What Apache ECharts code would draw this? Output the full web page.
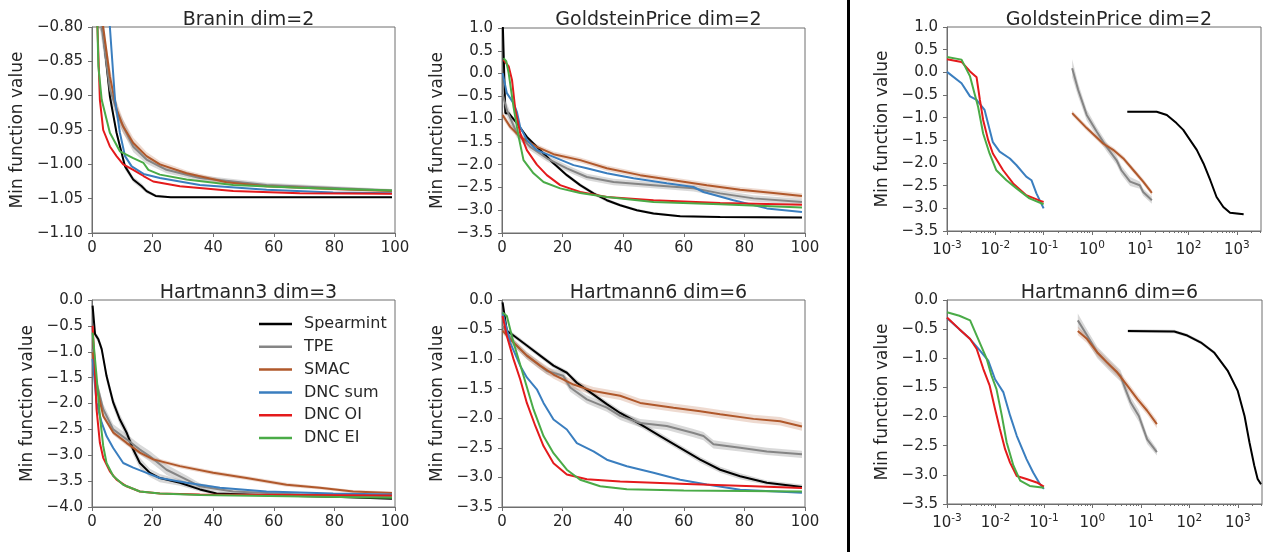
<!DOCTYPE html>
<html><head><meta charset="utf-8">
<script src="https://cdn.jsdelivr.net/npm/echarts@6/dist/echarts.min.js"></script>
<style>html,body{margin:0;padding:0;background:#fff}#c{width:1269px;height:552px}</style>
</head><body><div id="c"></div>
<script>
// ---------- names / titles ----------
const seriesNames = ['Spearmint', 'TPE', 'SMAC', 'DNC sum', 'DNC OI', 'DNC EI'];
const panelTitles = ['Branin dim=2', 'GoldsteinPrice dim=2', 'Hartmann3 dim=3', 'Hartmann6 dim=6', 'GoldsteinPrice dim=2', 'Hartmann6 dim=6'];
const yTitle = 'Min function value';
const linearXTicks = [0, 20, 40, 60, 80, 100];
const logXTicks = [0.001, 0.01, 0.1, 1, 10, 100, 1000];

// ---------- Branin (linear x) ----------
const brSpearmint = [[2,-0.70],[3.5,-0.80],[5.9,-0.901],[8.1,-0.954],[10.9,-1.003],[13.6,-1.022],[16.4,-1.032],[18,-1.039],[21,-1.046],[26,-1.048],[35,-1.048],[99,-1.048]];
const brSpearmintHalf = [0.01,0.01,0.008,0.006,0.005,0.004,0.004,0.003,0.002,0.001,0.001,0.001];
const brTPE = [[2.5,-0.75],[3.2,-0.80],[5.9,-0.891],[9.2,-0.935],[13.6,-0.974],[18,-0.993],[24.6,-1.008],[35.6,-1.020],[57.6,-1.030],[99,-1.038]];
const brTPEHalf = [0.02,0.02,0.012,0.01,0.008,0.006,0.005,0.004,0.003,0.002];
const brSMAC = [[3,-0.75],[3.7,-0.80],[5.9,-0.872],[8.1,-0.920],[10.3,-0.945],[13.6,-0.969],[18,-0.988],[22.4,-1.0],[31.2,-1.013],[44.4,-1.026],[57.6,-1.032],[79.6,-1.036],[99,-1.039]];
const brSMACHalf = [0.02,0.02,0.015,0.012,0.01,0.008,0.006,0.005,0.004,0.003,0.002,0.002,0.002];
const brSum = [[5,-0.70],[5.9,-0.80],[7.6,-0.906],[9.2,-0.954],[10.9,-0.988],[13.1,-1.003],[17,-1.014],[22.4,-1.020],[35.6,-1.030],[57.6,-1.037],[79.6,-1.041],[99,-1.042]];
const brOI = [[1,-0.70],[1.8,-0.80],[2.6,-0.906],[3.7,-0.95],[5.9,-0.974],[8.1,-0.988],[10.3,-1.0],[13.6,-1.008],[17,-1.017],[20.2,-1.025],[29,-1.032],[46.6,-1.039],[68.6,-1.042],[99,-1.043]];
const brEI = [[1.5,-0.75],[1.8,-0.80],[2.1,-0.857],[3.2,-0.906],[5.9,-0.954],[9.2,-0.981],[13.6,-0.991],[17,-0.998],[18.6,-1.008],[22.4,-1.015],[31.2,-1.022],[46.6,-1.030],[68.6,-1.034],[99,-1.038]];

// ---------- GoldsteinPrice (linear x) ----------
const gpSpearmint = [[0,1.2],[0.3,1.0],[1.1,-0.87],[2.2,-0.87],[4.9,-1.09],[8.2,-1.39],[12.6,-1.68],[17,-1.97],[21.4,-2.23],[25.8,-2.45],[30.2,-2.63],[34.6,-2.78],[39,-2.89],[44.5,-3.0],[50,-3.07],[58.8,-3.13],[72,-3.15],[99,-3.16]];
const gpSpearmintHalf = [0.05,0.05,0.05,0.04,0.04,0.04,0.04,0.04,0.04,0.04,0.04,0.04,0.03,0.03,0.03,0.02,0.02,0.02];
const gpTPE = [[0.2,-0.45],[1.6,-0.80],[4.9,-1.31],[9.3,-1.61],[14.8,-1.86],[21.4,-2.08],[28,-2.27],[36.8,-2.38],[50,-2.45],[63.2,-2.52],[72,-2.63],[83,-2.74],[99,-2.82]];
const gpTPEHalf = [0.25,0.15,0.1,0.08,0.07,0.07,0.07,0.07,0.07,0.07,0.07,0.07,0.07];
const gpSMAC = [[0.2,-0.91],[2.7,-1.17],[6,-1.39],[11.5,-1.61],[17,-1.77],[25.8,-1.90],[34.6,-2.08],[45.6,-2.23],[56.6,-2.34],[67.6,-2.45],[78.6,-2.55],[89.6,-2.62],[99,-2.69]];
const gpSMACHalf = [0.08,0.07,0.06,0.06,0.06,0.06,0.06,0.06,0.06,0.06,0.06,0.06,0.06];
const gpSum = [[0.2,0.01],[1.6,-0.43],[3.8,-0.65],[4.9,-0.84],[6,-1.17],[8.2,-1.46],[11.5,-1.68],[17,-1.83],[23.6,-2.01],[28,-2.08],[34.6,-2.19],[43.4,-2.30],[54.4,-2.41],[63.2,-2.49],[66.5,-2.60],[76.4,-2.78],[87.4,-2.96],[99,-3.04]];
const gpOI = [[0.5,0.30],[2.2,0.16],[3,-0.06],[3.3,-0.14],[4.4,-0.80],[6,-1.31],[8.2,-1.68],[11.5,-2.0],[14.8,-2.23],[19.2,-2.45],[25.8,-2.60],[34.6,-2.71],[50,-2.78],[72,-2.84],[99,-2.88]];
const gpEI = [[0.5,0.34],[1.4,0.27],[2.2,0.01],[3.8,-0.73],[5.5,-1.39],[7.1,-1.90],[10.4,-2.19],[13.7,-2.38],[19.2,-2.52],[25.8,-2.62],[34.6,-2.71],[50,-2.82],[72,-2.87],[99,-2.94]];

// ---------- Hartmann3 (linear x) ----------
const h3Spearmint = [[0.2,-0.11],[1,-0.66],[2.1,-0.76],[3.2,-0.95],[4.8,-1.47],[7,-1.98],[9.2,-2.31],[11.4,-2.56],[13.6,-2.89],[15.8,-3.15],[19.1,-3.34],[22.4,-3.44],[29,-3.53],[35.6,-3.66],[41.1,-3.74],[60,-3.78],[80,-3.80],[99,-3.84]];
const h3SpearmintHalf = [0.05,0.06,0.06,0.08,0.1,0.1,0.1,0.1,0.1,0.1,0.08,0.08,0.06,0.04,0.03,0.02,0.02,0.02];
const h3TPE = [[0.2,-0.95],[1.5,-1.60],[3.7,-2.11],[7,-2.50],[11.4,-2.69],[15.8,-2.89],[19.1,-3.02],[24.6,-3.28],[31.2,-3.47],[35.6,-3.60],[46.6,-3.70],[68.6,-3.76],[99,-3.79]];
const h3TPEHalf = [0.1,0.1,0.1,0.1,0.1,0.1,0.1,0.1,0.08,0.06,0.04,0.03,0.03];
const h3SMAC = [[0.2,-1.01],[1.5,-1.66],[3.7,-2.24],[7,-2.56],[11.4,-2.76],[15.8,-2.95],[20.2,-3.08],[29,-3.21],[40,-3.34],[51,-3.44],[64.2,-3.57],[75.2,-3.63],[86.2,-3.70],[99,-3.73]];
const h3SMACHalf = [0.05,0.05,0.05,0.05,0.05,0.04,0.04,0.04,0.04,0.04,0.04,0.03,0.03,0.03];
const h3Sum = [[0.2,-1.14],[1.5,-1.98],[3.2,-2.37],[4.8,-2.63],[7,-2.86],[10.3,-3.15],[13.6,-3.24],[18,-3.34],[22.4,-3.44],[31.2,-3.53],[42.2,-3.63],[57.6,-3.70],[79.6,-3.74],[99,-3.76]];
const h3OI = [[0.2,-0.50],[0.8,-1.14],[1.5,-2.11],[2.6,-2.76],[3.7,-3.05],[5.9,-3.31],[8.1,-3.47],[11.4,-3.60],[15.8,-3.70],[22.4,-3.74],[35.6,-3.76],[99,-3.78]];
const h3EI = [[0.2,-0.63],[1.5,-1.47],[2.6,-2.24],[3.7,-2.82],[4.8,-3.15],[7,-3.40],[10.3,-3.57],[15.8,-3.70],[22.4,-3.74],[35.6,-3.77],[99,-3.82]];

// ---------- Hartmann6 (linear x) ----------
const h6Spearmint = [[0.2,-0.04],[1.6,-0.52],[3.8,-0.60],[8.2,-0.77],[12.6,-0.94],[17,-1.11],[21.4,-1.23],[24.7,-1.40],[30.2,-1.60],[34.6,-1.76],[39,-1.91],[45.6,-2.10],[52.2,-2.30],[58.8,-2.50],[65.4,-2.70],[72,-2.87],[78.6,-2.98],[87.4,-3.09],[99,-3.16]];
const h6SpearmintHalf = [0.03,0.04,0.04,0.04,0.04,0.04,0.04,0.05,0.05,0.05,0.05,0.05,0.05,0.05,0.05,0.05,0.05,0.04,0.04];
const h6TPE = [[0.2,-0.44],[3.8,-0.72],[8.2,-0.94],[14.8,-1.20],[20.2,-1.28],[22.5,-1.48],[28,-1.68],[34.6,-1.82],[39,-1.96],[45.6,-2.08],[54.4,-2.13],[63.2,-2.25],[66.5,-2.30],[69.8,-2.44],[78.6,-2.50],[87.4,-2.56],[99,-2.61]];
const h6TPEHalf = [0.06,0.06,0.06,0.06,0.07,0.07,0.07,0.07,0.07,0.07,0.07,0.07,0.07,0.07,0.06,0.06,0.06];
const h6SMAC = [[0.2,-0.52],[3.8,-0.72],[8.2,-0.94],[12.6,-1.11],[17,-1.26],[23.6,-1.43],[30.2,-1.54],[39,-1.62],[45.6,-1.74],[56.6,-1.82],[65.4,-1.88],[72,-1.93],[83,-2.01],[91.8,-2.05],[99,-2.14]];
const h6SMACHalf = [0.05,0.06,0.06,0.07,0.07,0.07,0.07,0.07,0.07,0.07,0.07,0.07,0.07,0.07,0.07];
const h6Sum = [[0.2,-0.21],[2.7,-0.72],[6,-1.11],[8.2,-1.31],[11.5,-1.51],[13.7,-1.74],[17,-2.02],[21.4,-2.19],[24.7,-2.42],[30.2,-2.56],[34.6,-2.70],[41.2,-2.81],[50,-2.92],[58.8,-3.04],[67.6,-3.12],[78.6,-3.21],[99,-3.26]];
const h6OI = [[0.2,-0.27],[1.6,-0.61],[3.8,-1.00],[6,-1.34],[8.2,-1.74],[11,-2.13],[13.7,-2.47],[17,-2.76],[21.4,-2.95],[28,-3.03],[39,-3.07],[61,-3.11],[83,-3.15],[99,-3.18]];
const h6EI = [[0.2,-0.21],[1.6,-0.27],[3.8,-0.72],[7.1,-1.28],[10.4,-1.85],[13.7,-2.30],[17,-2.59],[21.4,-2.87],[25.8,-3.04],[32.4,-3.15],[41.2,-3.20],[60,-3.22],[99,-3.24]];

// ---------- GoldsteinPrice (log x, time) ----------
const lgSpearmint = [[5.4,-0.87],[21.9,-0.87],[35.5,-0.94],[56.2,-1.12],[77.6,-1.27],[107,-1.49],[148,-1.71],[204,-2.01],[282,-2.38],[380,-2.75],[525,-2.97],[724,-3.10],[1380,-3.13]];
const lgSpearmintHalf = [0.02,0.02,0.02,0.02,0.02,0.02,0.02,0.02,0.02,0.02,0.02,0.02,0.02];
const lgTPE = [[0.39,0.09],[0.52,-0.39],[0.78,-0.94],[1.26,-1.31],[2.0,-1.64],[3.24,-1.94],[4.07,-2.16],[6.17,-2.41],[9.77,-2.49],[11.5,-2.64],[17.4,-2.82]];
const lgTPEHalf = [0.2,0.15,0.12,0.1,0.1,0.1,0.1,0.1,0.08,0.08,0.08];
const lgSMAC = [[0.39,-0.90],[0.78,-1.23],[1.7,-1.57],[2.75,-1.71],[4.47,-1.90],[7.24,-2.16],[11.5,-2.41],[17.4,-2.66]];
const lgSMACHalf = [0.06,0.06,0.06,0.06,0.06,0.06,0.06,0.06];
const lgSum = [[0.001,0.01],[0.002,-0.24],[0.003,-0.53],[0.0041,-0.61],[0.006,-0.83],[0.0089,-1.54],[0.0123,-1.75],[0.02,-1.90],[0.0275,-2.05],[0.0437,-2.30],[0.056,-2.38],[0.071,-2.67],[0.1,-3.00]];
const lgOI = [[0.001,0.29],[0.002,0.23],[0.003,0.02],[0.0041,-0.11],[0.0048,-0.61],[0.0056,-1.05],[0.0071,-1.49],[0.0089,-1.79],[0.0145,-2.16],[0.0234,-2.45],[0.0437,-2.71],[0.083,-2.83],[0.1,-2.86]];
const lgEI = [[0.001,0.34],[0.002,0.28],[0.003,-0.09],[0.0037,-0.46],[0.0044,-0.76],[0.0056,-1.35],[0.0076,-1.79],[0.0105,-2.16],[0.017,-2.38],[0.0275,-2.56],[0.051,-2.78],[0.1,-2.91]];

// ---------- Hartmann6 (log x, time) ----------
const lhSpearmint = [[5.4,-0.53],[49,-0.54],[91,-0.61],[174,-0.73],[324,-0.90],[617,-1.21],[1000,-1.56],[1380,-1.99],[1740,-2.44],[2190,-2.84],[2570,-3.07],[3020,-3.16]];
const lhSpearmintHalf = [0.03,0.03,0.03,0.03,0.03,0.03,0.03,0.03,0.03,0.03,0.03,0.03];
const lhTPE = [[0.5,-0.35],[0.78,-0.61],[1.26,-0.90],[2.34,-1.13],[3.8,-1.30],[4.8,-1.53],[6.17,-1.76],[9.1,-1.99],[13.5,-2.39],[21.4,-2.61]];
const lhTPEHalf = [0.12,0.1,0.1,0.1,0.1,0.1,0.1,0.1,0.08,0.06];
const lhSMAC = [[0.5,-0.53],[0.78,-0.67],[1.26,-0.90],[2.0,-1.07],[3.24,-1.24],[5.25,-1.47],[8.5,-1.70],[13.5,-1.90],[21.4,-2.13]];
const lhSMACHalf = [0.07,0.07,0.07,0.07,0.07,0.07,0.07,0.07,0.07];
const lhSum = [[0.001,-0.31],[0.0018,-0.50],[0.003,-0.67],[0.0048,-0.87],[0.0071,-1.04],[0.0098,-1.36],[0.0145,-1.58],[0.02,-1.98],[0.0275,-2.33],[0.0437,-2.73],[0.06,-2.96],[0.083,-3.16],[0.1,-3.24]];
const lhOI = [[0.001,-0.30],[0.0018,-0.50],[0.003,-0.67],[0.0041,-0.84],[0.0056,-1.18],[0.0076,-1.47],[0.0098,-1.87],[0.0123,-2.21],[0.0158,-2.56],[0.02,-2.79],[0.0275,-3.02],[0.0437,-3.07],[0.071,-3.13],[0.1,-3.20]];
const lhEI = [[0.001,-0.21],[0.0018,-0.27],[0.003,-0.35],[0.0041,-0.61],[0.0066,-1.01],[0.0083,-1.30],[0.0105,-1.53],[0.0135,-1.98],[0.017,-2.44],[0.0234,-2.84],[0.0324,-3.10],[0.051,-3.19],[0.1,-3.22]];

// ---------- y axis ranges ----------
const yRanges = [[-1.10,-0.80,0.05,2],[-3.5,1.0,0.5,1],[-4.0,0.0,0.5,1],[-3.5,0.0,0.5,1],[-3.5,1.0,0.5,1],[-3.5,0.0,0.5,1]];
const logMinorTicks = [0.002,0.003,0.004,0.005,0.006,0.007,0.008,0.009,0.02,0.03,0.04,0.05,0.06,0.07,0.08,0.09,0.2,0.3,0.4,0.5,0.6,0.7,0.8,0.9,2,3,4,5,6,7,8,9,20,30,40,50,60,70,80,90,200,300,400,500,600,700,800,900,2000,3000];

// ---------- assembly ----------
const colors = {'Spearmint':'#000000','TPE':'#858585','SMAC':'#b0582b','DNC sum':'#3a7ebf','DNC OI':'#e41a1c','DNC EI':'#4aab47'};
const bandColors = {'Spearmint':'rgba(110,110,110,0.28)','TPE':'rgba(120,120,120,0.28)','SMAC':'rgba(176,88,43,0.22)'};
const panels = [
  {lines:[brSpearmint,brTPE,brSMAC,brSum,brOI,brEI], bands:[[brSpearmint,brSpearmintHalf],[brTPE,brTPEHalf],[brSMAC,brSMACHalf]]},
  {lines:[gpSpearmint,gpTPE,gpSMAC,gpSum,gpOI,gpEI], bands:[[gpSpearmint,gpSpearmintHalf],[gpTPE,gpTPEHalf],[gpSMAC,gpSMACHalf]]},
  {lines:[h3Spearmint,h3TPE,h3SMAC,h3Sum,h3OI,h3EI], bands:[[h3Spearmint,h3SpearmintHalf],[h3TPE,h3TPEHalf],[h3SMAC,h3SMACHalf]]},
  {lines:[h6Spearmint,h6TPE,h6SMAC,h6Sum,h6OI,h6EI], bands:[[h6Spearmint,h6SpearmintHalf],[h6TPE,h6TPEHalf],[h6SMAC,h6SMACHalf]]},
  {lines:[lgSpearmint,lgTPE,lgSMAC,lgSum,lgOI,lgEI], bands:[[lgSpearmint,lgSpearmintHalf],[lgTPE,lgTPEHalf],[lgSMAC,lgSMACHalf]], log:true},
  {lines:[lhSpearmint,lhTPE,lhSMAC,lhSum,lhOI,lhEI], bands:[[lhSpearmint,lhSpearmintHalf],[lhTPE,lhTPEHalf],[lhSMAC,lhSMACHalf]], log:true}
];
const gridBoxes = [
  {left:92, top:27, width:303, height:206},
  {left:502, top:28, width:303, height:205},
  {left:92, top:300, width:303, height:207},
  {left:502, top:300, width:303, height:207},
  {left:947, top:27, width:314, height:204},
  {left:947, top:300, width:315, height:204}
];
const titleTops = [6, 6, 279, 279, 6, 279];
const nameGaps = [66, 56, 56, 56, 56, 56];

const FONT = 'DejaVu Sans';
const TXT = '#262626';
const SPINE = '#6e6e6e';
const minusFmt = dec => v => (v < -1e-9 ? '\u2212' : '') + Math.abs(v).toFixed(dec);

const grid = gridBoxes.map(g => Object.assign({show:true, borderColor:SPINE, borderWidth:1, containLabel:false}, g));
const title = gridBoxes.map((g,i) => ({text: panelTitles[i], left: g.left + g.width/2, top: titleTops[i], textAlign:'center',
  textStyle:{fontFamily:FONT, fontSize:19, fontWeight:'normal', color:TXT}}));

const xAxis = [], yAxis = [], series = [];
panels.forEach((p, i) => {
  const base = {gridIndex:i, axisLine:{show:true, onZero:false, lineStyle:{color:SPINE}}, axisTick:{show:true, inside:false, length:4, lineStyle:{color:SPINE}}, splitLine:{show:false}};
  if (p.log) {
    xAxis.push(Object.assign({}, base, {type:'log', logBase:10, min:logXTicks[0], max:3162,
      axisLabel:{margin:9, showMaxLabel:false, formatter: v => {
        const l = Math.log10(v), e = Math.round(l);
        if (Math.abs(l - e) > 1e-6 || e > 3) return '';
        return '{b|10}{s|' + (e < 0 ? '-' : '') + Math.abs(e) + '}';
      }, rich:{b:{fontFamily:FONT, fontSize:15, color:TXT, lineHeight:20}, s:{fontFamily:FONT, fontSize:10.5, color:TXT, lineHeight:11, verticalAlign:'top'}}}}));
  } else {
    xAxis.push(Object.assign({}, base, {type:'value', min:linearXTicks[0], max:linearXTicks[linearXTicks.length-1], interval:20,
      axisLabel:{margin:8, fontFamily:FONT, fontSize:15, color:TXT}}));
  }
  const yr = yRanges[i];
  yAxis.push(Object.assign({}, base, {type:'value', min:yr[0], max:yr[1], interval:yr[2],
    name: yTitle, nameLocation:'middle', nameGap:nameGaps[i], nameTextStyle:{fontFamily:FONT, fontSize:17, color:TXT},
    axisLabel:{margin:9, fontFamily:FONT, fontSize:15, color:TXT, formatter:minusFmt(yr[3])}}));

  // shaded bands
  p.bands.forEach(([center, half], bi) => {
    const nm = seriesNames[bi];
    series.push({type:'custom', name: nm + ' band', xAxisIndex:i, yAxisIndex:i, z:1, silent:true,
      data:[center[0]],
      renderItem:(params, api) => {
        const up = center.map((pt, k) => api.coord([pt[0], pt[1] + half[k]]));
        const lo = center.map((pt, k) => api.coord([pt[0], pt[1] - half[k]])).reverse();
        const pts = echarts.graphic.clipPointsByRect(up.concat(lo), params.coordSys);
        return {type:'polygon', shape:{points:pts}, style:{fill: bandColors[nm]}};
      }});
  });
  // lines
  p.lines.forEach((d, li) => {
    const nm = seriesNames[li];
    series.push({type:'line', name:nm, xAxisIndex:i, yAxisIndex:i, data:d, symbol:'none', showSymbol:false, clip:true, z:3,
      lineStyle:{width:2, color:colors[nm]}, itemStyle:{color:colors[nm]}});
  });
});
// minor tick overlay axes for the two log panels
[4,5].forEach(i => {
  xAxis.push({gridIndex:i, type:'log', logBase:10, min:logXTicks[0], max:3162, position:'bottom',
    axisLine:{show:false, onZero:false}, splitLine:{show:false}, axisLabel:{show:false},
    axisTick:{show:true, length:2, customValues:logMinorTicks, lineStyle:{color:SPINE}}});
});

const option = {
  backgroundColor:'#ffffff',
  animation:false,
  title, grid, xAxis, yAxis, series,
  legend:{data:seriesNames, orient:'vertical', left:254, top:311, icon:'rect', itemWidth:33, itemHeight:2.5, itemGap:6.8,
    textStyle:{fontFamily:FONT, fontSize:16, lineHeight:16, color:TXT, padding:[0,0,0,7]}},
  graphic:[{type:'rect', left:847, top:0, shape:{width:3, height:552}, style:{fill:'#000'}}]
};
const chart = echarts.init(document.getElementById('c'), null, {renderer:'canvas'});
chart.setOption(option);
</script></body></html>
